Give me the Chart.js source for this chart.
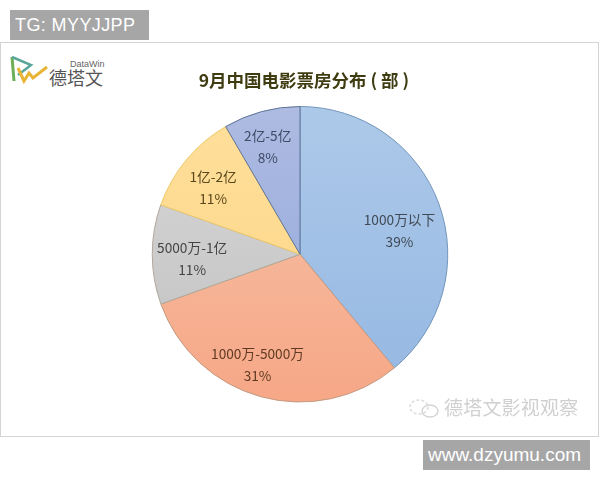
<!DOCTYPE html>
<html>
<head>
  <meta charset="utf-8" />
  <title>9月中国电影票房分布</title>
  <script src="https://cdn.jsdelivr.net/npm/chart.js"></script>
  <style>
    html, body { margin: 0; padding: 0; background: #fff; }
    .page { position: relative; width: 600px; height: 480px; overflow: hidden; }
    #pie { position: absolute; left: 0; top: 0; }
    .frame { position: absolute; left: 0; top: 42px; width: 597px; height: 393px; border: 1px solid #d4d4d4; }
    .tag { position: absolute; background: #a6a6a6; color: #fff; font-family: "Liberation Sans", sans-serif; white-space: nowrap; }
    .tg { left: 10px; top: 10px; width: 139px; height: 30px; line-height: 30px; font-size: 18px; padding-left: 5px; box-sizing: border-box; letter-spacing: 0.4px; }
    .site { left: 423px; top: 440px; width: 163px; height: 30px; line-height: 30px; font-size: 19px; text-align: center; box-sizing: content-box; padding-right: 4px; }
    .logo { position: absolute; left: 8px; top: 52px; }
    .mark { position: absolute; left: 444px; top: 396px; font: 19px "Noto Sans CJK SC", sans-serif; line-height: 22px; color: #d0d0d0; white-space: nowrap; letter-spacing: 0.2px; }
    .wechat { position: absolute; left: 408px; top: 397px; }
  </style>
</head>
<body>
  <div class="page">
    <div class="frame"></div>
    <div class="tag tg">TG: MYYJJPP</div>
    <svg class="logo" width="100" height="40" viewBox="0 0 100 40">
      <polyline points="4,5 6,29" fill="none" stroke="#6cae58" stroke-width="3" />
      <polyline points="4,5 23,13 10,23" fill="none" stroke="#5aa79a" stroke-width="2.5" />
      <polyline points="10,16 16,29 21,21 25,26 39,15" fill="none" stroke="#e8b434" stroke-width="3" />
      <text x="62" y="15" font-family="Liberation Sans" font-size="9" fill="#666">DataWin</text>
      <text x="41" y="33" font-family="Noto Sans CJK SC" font-size="18" fill="#555">德塔文</text>
    </svg>
    <canvas id="pie" width="600" height="480"></canvas>
    <svg class="wechat" width="34" height="24" viewBox="0 0 34 24">
      <ellipse cx="11" cy="10" rx="9" ry="7" fill="none" stroke="#dcdcdc" stroke-width="1.5" stroke-dasharray="3 2" />
      <ellipse cx="22" cy="14" rx="8" ry="6" fill="none" stroke="#d4d4d4" stroke-width="1.5" />
    </svg>
    <div class="mark">德塔文影视观察</div>
    <div class="tag site">www.dzyumu.com</div>
  </div>

  <script>
    const categories = ['1000万以下', '1000万-5000万', '5000万-1亿', '1亿-2亿', '2亿-5亿'];
    const shares = [39, 30.6, 10.9, 11.2, 8.4];

    // top and bottom colour of each slice, then its outline
    const topColors = ['#adc9e9', '#f6c4ab', '#d8d8d8', '#fedf9b', '#aebbe2'];
    const bottomColors = ['#94b7e2', '#f6a786', '#c0c0c0', '#fdd584', '#8ea6da'];
    const outlineColors = ['#7295bb', '#c39a82', '#b0a89a', '#ecc96a', '#5f7396'];

    // moves each label from the middle of its slice to where it sits in the picture
    const labelNudges = [[30, 2], [-23, 39], [-34, 4], [-30, -19], [-13, -36]];
    const labelColors = ['#3f4a55', '#5f3a22', '#444444', '#59461c', '#3f4a66'];

    const sliceLabels = {
      id: 'sliceLabels',
      afterDatasetsDraw(chart) {
        const ctx = chart.ctx;
        ctx.save();
        ctx.font = '13.7px "Noto Sans CJK SC", sans-serif';
        ctx.textAlign = 'center';
        ctx.textBaseline = 'middle';
        chart.getDatasetMeta(0).data.forEach((arc, i) => {
          const p = arc.getCenterPoint();
          const x = p.x + labelNudges[i][0];
          const y = p.y + labelNudges[i][1];
          ctx.fillStyle = labelColors[i];
          ctx.fillText(categories[i], x, y - 11);
          ctx.fillText(Math.round(shares[i]) + '%', x, y + 11);
        });
        ctx.restore();
      }
    };

    function sliceFill(context) {
      const chart = context.chart;
      const area = chart.chartArea;
      if (!area) return topColors[context.dataIndex];
      const g = chart.ctx.createLinearGradient(0, area.top, 0, area.bottom);
      g.addColorStop(0, topColors[context.dataIndex]);
      g.addColorStop(1, bottomColors[context.dataIndex]);
      return g;
    }

    new Chart(document.getElementById('pie').getContext('2d'), {
      type: 'pie',
      data: {
        labels: categories,
        datasets: [{
          data: shares,
          backgroundColor: sliceFill,
          borderColor: outlineColors,
          borderWidth: 1
        }]
      },
      options: {
        responsive: false,
        animation: false,
        layout: { padding: { top: 70, bottom: 77.5, left: 0, right: 0 } },
        plugins: {
          legend: { display: false },
          tooltip: { enabled: false },
          title: {
            display: true,
            // the leading spaces push the centred title a little right of the pie
            text: '\u00a0\u00a09月中国电影票房分布 ( 部 )',
            color: '#3f3c12',
            font: { family: '"Noto Sans CJK SC", sans-serif', size: 17.5, weight: 'bold' },
            padding: { top: 0, bottom: 15 }
          }
        }
      },
      plugins: [sliceLabels]
    });
  </script>
</body>
</html>
